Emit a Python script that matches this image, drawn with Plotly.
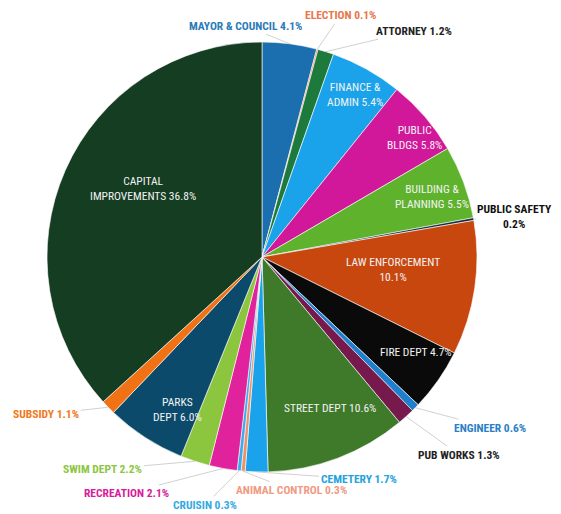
import math
import plotly.graph_objects as go

# ---- data ----
departments = [
    "MAYOR & COUNCIL", "ELECTION", "ATTORNEY", "FINANCE & ADMIN", "PUBLIC BLDGS",
    "BUILDING & PLANNING", "PUBLIC SAFETY", "LAW ENFORCEMENT", "FIRE DEPT", "ENGINEER",
    "PUB WORKS", "STREET DEPT", "CEMETERY", "ANIMAL CONTROL", "CRUISIN",
    "RECREATION", "SWIM DEPT", "PARKS DEPT", "SUBSIDY", "CAPITAL IMPROVEMENTS",
]
percent = [4.1, 0.1, 1.2, 5.4, 5.8, 5.5, 0.2, 10.1, 4.7, 0.6,
           1.3, 10.6, 1.7, 0.3, 0.3, 2.1, 2.2, 6.0, 1.1, 36.8]
label_text = [
    "MAYOR & COUNCIL 4.1%", "ELECTION 0.1%", "ATTORNEY 1.2%", "FINANCE &<br>ADMIN 5.4%",
    "PUBLIC<br>BLDGS 5.8%", "BUILDING &<br>PLANNING 5.5%", "PUBLIC SAFETY<br>0.2%",
    "LAW ENFORCEMENT<br>10.1%", "FIRE DEPT 4.7%", "ENGINEER 0.6%", "PUB WORKS 1.3%",
    "STREET DEPT 10.6%", "CEMETERY 1.7%", "ANIMAL CONTROL 0.3%", "CRUISIN 0.3%",
    "RECREATION 2.1%", "SWIM DEPT 2.2%", "PARKS<br>DEPT 6.0%", "SUBSIDY 1.1%",
    "CAPITAL<br>IMPROVEMENTS 36.8%",
]

# ---- style ----
slice_colors = [
    "#1B6FAF", "#E8764A", "#1E7A3C", "#1AA3EA", "#D1189B",
    "#5EB22C", "#142A40", "#C8470F", "#0A0A0A", "#1E7FCC",
    "#761A4E", "#3F7A2B", "#1AA3EA", "#F0906A", "#3AAEEA",
    "#E0229C", "#8CC63F", "#0B4A6B", "#F07214", "#143D22",
]
outside = {  # index: (text colour, ax, ay)
    0: ("#2B7BB9", -44, -18),
    1: ("#E8764A", 23, -34),
    2: ("#222222", 88, -21),
    6: ("#111111", 41, -3),
    9: ("#2A80C6", 75, 20),
    10: ("#222222", 53, 38),
    12: ("#22A2E0", 102, 7),
    13: ("#F09A82", 48, 19),
    14: ("#33AAE2", -34, 34),
    15: ("#D81B9A", -97, 25),
    16: ("#8CC63F", -92, 8),
    18: ("#F07820", -62, 7),
}
inside = {  # index: (radius fraction, angle shift deg)
    3: (0.87, 0.7), 4: (0.90, 2.6), 5: (0.84, 0.9), 7: (0.61, -2.8),
    8: (0.84, -3.3), 11: (0.77, -3.6), 17: (0.81, -3.8), 19: (0.64, 6.2),
}

OFF = 8  # page body margin
W, H = 561 - OFF, 514 - OFF
CX, CY, R = 262 - OFF, 257 - OFF, 215
FONT = "Liberation Sans Narrow, Roboto Condensed, Roboto, Arial Narrow, sans-serif"

fig = go.Figure(go.Pie(
    labels=departments,
    values=percent,
    sort=False,
    direction="clockwise",
    rotation=0,
    marker=dict(colors=slice_colors, line=dict(color="#FFFFFF", width=0.6)),
    textinfo="none",
    hoverinfo="label+value",
    showlegend=False,
    domain=dict(x=[(CX - R) / W, (CX + R) / W], y=[(H - CY - R) / H, (H - CY + R) / H]),
))

total = sum(percent)
annotations = []
cum = 0.0
for i, v in enumerate(percent):
    mid = (cum + v / 2) / total
    cum += v
    theta = 2 * math.pi * mid
    if i in outside:
        col, ax, ay = outside[i]
        px = CX + R * math.sin(theta)
        py = CY - R * math.cos(theta)
        annotations.append(dict(
            x=px / W, y=1 - py / H, xref="paper", yref="paper",
            text="<b>" + label_text[i] + "</b>", showarrow=True, arrowhead=0,
            arrowwidth=0.7, arrowcolor="#BBBBBB", ax=ax, ay=ay,
            xanchor="center", yanchor="middle",
            font=dict(family=FONT, size=11.5, color=col), align="center",
        ))
    elif i in inside:
        frac, shift = inside[i]
        th = theta + math.radians(shift)
        px = CX + R * frac * math.sin(th)
        py = CY - R * frac * math.cos(th)
        annotations.append(dict(
            x=px / W, y=1 - py / H, xref="paper", yref="paper",
            text=label_text[i], showarrow=False,
            xanchor="center", yanchor="middle",
            font=dict(family=FONT, size=11.5, color="#F2F2F2"), align="center",
        ))

fig.update_layout(
    width=W, height=H,
    margin=dict(l=0, r=0, t=0, b=0),
    paper_bgcolor="#FFFFFF",
    plot_bgcolor="#FFFFFF",
    annotations=annotations,
)

fig.write_html("out.html")
